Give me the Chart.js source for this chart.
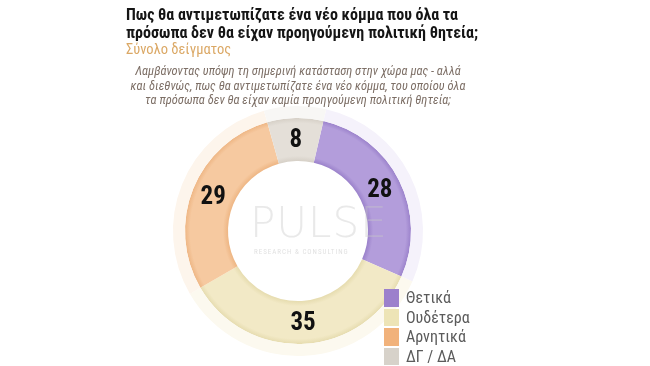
<!DOCTYPE html>
<html>
<head>
<meta charset="utf-8">
<script src="https://cdn.jsdelivr.net/npm/chart.js@4"></script>
<style>
  html, body { margin:0; padding:0; background:#fff; }
  body { width:650px; height:366px; position:relative; overflow:hidden; font-family:"Liberation Sans Narrow","Roboto Condensed","Liberation Sans",sans-serif; }
  #c { position:absolute; left:0; top:0; }
  .title { position:absolute; left:126px; top:6px; font-weight:bold; font-size:16px; line-height:18px; color:#151515; white-space:nowrap; }
  .sub { position:absolute; left:126px; top:41px; font-size:14.5px; color:#dba865; white-space:nowrap; }
  .desc { position:absolute; left:98px; width:400px; top:64px; text-align:center; font-style:italic; font-size:12.5px; line-height:14.5px; color:#7d6f66; white-space:nowrap; }
  .wm1 { position:absolute; left:250px; top:198px; font-family:"DejaVu Sans","Liberation Sans",sans-serif; font-weight:200; font-size:42px; letter-spacing:1px; color:rgba(200,200,200,0.4); }
  .wm2 { position:absolute; left:254px; top:248px; font-size:7px; letter-spacing:1px; color:rgba(200,200,200,0.55); }
  #legend { position:absolute; left:384px; top:288px; }
  .li { display:flex; align-items:center; height:19.5px; }
  .sw { width:15px; height:17.5px; margin-right:7px; }
  .lt { font-size:16px; color:#5b5b5b; }
</style>
</head>
<body>
<canvas id="c" width="650" height="366"></canvas>
<div class="wm1">PULSE</div>
<div class="wm2">RESEARCH &amp; CONSULTING</div>
<div class="title">Πως θα αντιμετωπίζατε ένα νέο κόμμα που όλα τα<br>πρόσωπα δεν θα είχαν προηγούμενη πολιτική θητεία;</div>
<div class="sub">Σύνολο δείγματος</div>
<div class="desc">Λαμβάνοντας υπόψη τη σημερινή κατάσταση στην χώρα μας - αλλά<br>και διεθνώς, πως θα αντιμετωπίζατε ένα νέο κόμμα, του οποίου όλα<br>τα πρόσωπα δεν θα είχαν καμία προηγούμενη πολιτική θητεία;</div>
<div id="legend"></div>
<script>
const categories = ["Θετικά", "Ουδέτερα", "Αρνητικά", "ΔΓ / ΔΑ"];
const values = [28, 35, 29, 8];
const ringColors = ["#b39ddb", "#f2e9c6", "#f6c9a0", "#e4dfd8"];
const ringEdgeColors = ["#9b82cb", "#e6dcaf", "#eeb684", "#d6d0c7"];
const haloColors = ["#f5f2fb", "#fcf9ef", "#fdf5ec", "#f8f7f5"];
const legendColors = ["#9c80cc", "#ede4b6", "#f1b27b", "#d7d2ca"];

const lg = document.getElementById('legend');
categories.forEach((c, i) => {
  const row = document.createElement('div'); row.className = 'li';
  const sw = document.createElement('div'); sw.className = 'sw'; sw.style.background = legendColors[i];
  const t = document.createElement('div'); t.className = 'lt'; t.textContent = c;
  row.appendChild(sw); row.appendChild(t); lg.appendChild(row);
});

const INNER = 70, MAIN_OUT = 113;
function ringFill(ctx) {
  const chart = ctx.chart, a = chart.chartArea, i = ctx.dataIndex;
  if (!a) return ringColors[i];
  const cx = (a.left + a.right) / 2, cy = (a.top + a.bottom) / 2;
  const g = chart.ctx.createRadialGradient(cx, cy, INNER, cx, cy, MAIN_OUT);
  g.addColorStop(0, ringEdgeColors[i]);
  g.addColorStop(0.12, ringColors[i]);
  g.addColorStop(0.5, ringColors[i]);
  g.addColorStop(0.88, ringColors[i]);
  g.addColorStop(1, ringEdgeColors[i]);
  return g;
}

const labelPlugin = {
  id: 'vals',
  afterDatasetsDraw(chart) {
    const meta = chart.getDatasetMeta(1);
    const c = chart.ctx;
    c.save();
    c.font = 'bold 25px "Liberation Sans Narrow","Roboto Condensed","Liberation Sans",sans-serif';
    c.fillStyle = '#111';
    c.textAlign = 'center'; c.textBaseline = 'middle';
    meta.data.forEach((arc, i) => {
      const p = arc.getProps(['x','y','startAngle','endAngle','innerRadius','outerRadius']);
      const m = (p.startAngle + p.endAngle) / 2;
      const r = (p.innerRadius + p.outerRadius) / 2;
      c.fillText(String(values[i]), p.x + Math.cos(m) * r, p.y + Math.sin(m) * r + 1);
    });
    c.restore();
  }
};

new Chart(document.getElementById('c'), {
  type: 'doughnut',
  data: {
    labels: categories,
    datasets: [
      { data: values, backgroundColor: haloColors, borderWidth: 0, weight: 12, hoverOffset: 0 },
      { data: values, backgroundColor: ringFill, borderWidth: 0, weight: 43, hoverOffset: 0 }
    ]
  },
  options: {
    responsive: false,
    animation: false,
    rotation: 13,
    cutout: '56%',
    layout: { padding: { left: 173, right: 227, top: 106, bottom: 10 } },
    plugins: { legend: { display: false }, tooltip: { enabled: false } },
    events: []
  },
  plugins: [labelPlugin]
});
</script>
</body>
</html>
